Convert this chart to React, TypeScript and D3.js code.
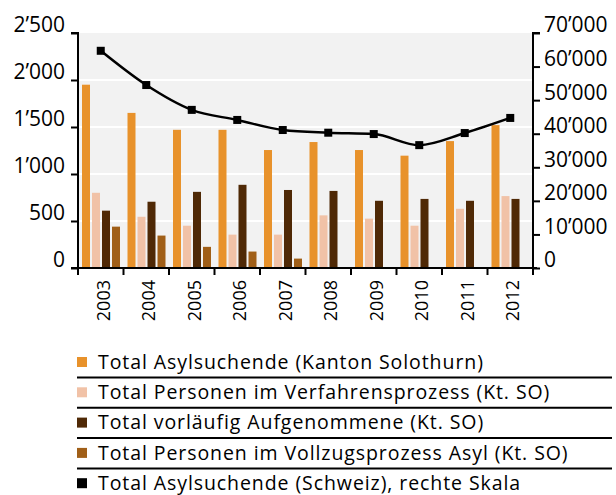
import React, { useEffect, useRef } from "react";
import * as d3 from "d3";

const years = ["2003", "2004", "2005", "2006", "2007", "2008", "2009", "2010", "2011", "2012"];
const kantonTotal = [1950, 1650, 1470, 1470, 1255, 1340, 1255, 1195, 1350, 1520];
const verfahren = [800, 545, 450, 355, 355, 560, 525, 450, 630, 765];
const vorlaeufig = [610, 705, 810, 885, 830, 820, 715, 735, 715, 735];
const vollzug = [440, 345, 225, 175, 100, 0, 0, 0, 0, 0];
const schweiz = [64700, 54500, 47100, 44100, 41100, 40300, 39900, 36600, 40200, 44700];

const leftTicks = [0, 500, 1000, 1500, 2000, 2500];
const rightTicks = [0, 10000, 20000, 30000, 40000, 50000, 60000, 70000];

const barSeries = [
  { key: "kanton", label: "Total Asylsuchende (Kanton Solothurn)", color: "#e8922b", values: kantonTotal },
  { key: "verfahren", label: "Total Personen im Verfahrensprozess (Kt. SO)", color: "#f1c2a7", values: verfahren },
  { key: "vorlaeufig", label: "Total vorläufig Aufgenommene (Kt. SO)", color: "#4f2906", values: vorlaeufig },
  { key: "vollzug", label: "Total Personen im Vollzugsprozess Asyl (Kt. SO)", color: "#a05f18", values: vollzug },
];
const lineLabel = "Total Asylsuchende (Schweiz), rechte Skala";

const W = 616;
const H = 495;
const FONT = "'Open Sans', sans-serif";

// swiss thousands separator
const fmt = (d: number) => {
  const s = String(d);
  return s.length > 3 ? s.slice(0, -3) + "\u2019" + s.slice(-3) : s;
};

const App: React.FC = () => {
  const svgRef = useRef<SVGSVGElement | null>(null);

  useEffect(() => {
    if (!svgRef.current) return;
    const svg = d3.select(svgRef.current);
    svg.selectAll("*").remove();

    const plot = { left: 78, right: 533, top: 33, bottom: 268 };

    const x = d3.scaleBand<string>().domain(years).range([plot.left, plot.right]);
    const xInner = d3
      .scaleBand<string>()
      .domain(barSeries.map((s) => s.key))
      .range([4, 42])
      .paddingInner(0.2);
    const yLeft = d3.scaleLinear().domain([0, 2500]).range([plot.bottom, plot.top]);
    const yRight = d3.scaleLinear().domain([0, 70000]).range([plot.bottom, plot.top]);

    // background
    svg
      .append("rect")
      .attr("x", plot.left)
      .attr("y", plot.top)
      .attr("width", plot.right - plot.left)
      .attr("height", plot.bottom - plot.top)
      .attr("fill", "#f2f2f2");

    // gridlines
    svg
      .append("g")
      .selectAll("line")
      .data(leftTicks.slice(1, -1))
      .enter()
      .append("line")
      .attr("x1", plot.left)
      .attr("x2", plot.right)
      .attr("y1", (d) => yLeft(d))
      .attr("y2", (d) => yLeft(d))
      .attr("stroke", "#fff")
      .attr("stroke-width", 2);

    // bars
    barSeries.forEach((s) => {
      svg
        .append("g")
        .selectAll("rect")
        .data(s.values)
        .enter()
        .append("rect")
        .attr("x", (_d, i) => x(years[i])! + xInner(s.key)!)
        .attr("y", (d) => yLeft(d))
        .attr("width", xInner.bandwidth())
        .attr("height", (d) => yLeft(0) - yLeft(d))
        .attr("fill", s.color);
    });

    // line
    const line = d3
      .line<number>()
      .x((_d, i) => x(years[i])! + x.bandwidth() / 2)
      .y((d) => yRight(d))
      .curve(d3.curveMonotoneX);
    svg
      .append("path")
      .datum(schweiz)
      .attr("d", line)
      .attr("fill", "none")
      .attr("stroke", "#000")
      .attr("stroke-width", 2.5);
    svg
      .append("g")
      .selectAll("rect")
      .data(schweiz)
      .enter()
      .append("rect")
      .attr("x", (_d, i) => x(years[i])! + x.bandwidth() / 2 - 4)
      .attr("y", (d) => yRight(d) - 4)
      .attr("width", 8)
      .attr("height", 8)
      .attr("fill", "#000");

    // left axis
    const leftAxis = svg
      .append("g")
      .attr("transform", `translate(${plot.left},0)`)
      .call(d3.axisLeft(yLeft).tickValues(leftTicks).tickSize(7).tickFormat((d) => fmt(d as number)));
    leftAxis.select(".domain").attr("stroke-width", 2).attr("d", `M-7,${plot.top}H0V${plot.bottom}`);
    leftAxis.selectAll("line").attr("stroke-width", 2);
    leftAxis
      .selectAll("text")
      .attr("font-family", FONT)
      .attr("font-size", 21)
      .attr("fill", "#000")
      .attr("x", -13)
      .attr("dy", "-0.05em")
      .attr("dominant-baseline", "auto");

    // right axis
    const rightAxis = svg
      .append("g")
      .attr("transform", `translate(${plot.right},0)`)
      .call(d3.axisRight(yRight).tickValues(rightTicks).tickSize(7).tickFormat((d) => fmt(d as number)));
    rightAxis.select(".domain").attr("stroke-width", 2).attr("d", `M7,${plot.top}H0V${plot.bottom}`);
    rightAxis.selectAll("line").attr("stroke-width", 2);
    rightAxis
      .selectAll("text")
      .attr("font-family", FONT)
      .attr("font-size", 21)
      .attr("fill", "#000")
      .attr("x", 11)
      .attr("dy", "-0.05em");

    // bottom axis
    const bounds = [...years.map((y) => x(y)!), plot.right];
    const bottom = svg.append("g");
    bottom
      .append("line")
      .attr("x1", plot.left - 7)
      .attr("x2", plot.right + 4)
      .attr("y1", plot.bottom)
      .attr("y2", plot.bottom)
      .attr("stroke", "#000")
      .attr("stroke-width", 2);
    bottom
      .selectAll("line.tick")
      .data(bounds)
      .enter()
      .append("line")
      .attr("class", "tick")
      .attr("x1", (d) => d)
      .attr("x2", (d) => d)
      .attr("y1", plot.bottom)
      .attr("y2", plot.bottom + 7)
      .attr("stroke", "#000")
      .attr("stroke-width", 2);
    bottom
      .selectAll("text")
      .data(years)
      .enter()
      .append("text")
      .attr("transform", (d) => `translate(${x(d)! + x.bandwidth() / 2 + 9},280) rotate(-90)`)
      .attr("text-anchor", "end")
      .attr("font-family", FONT)
      .attr("font-size", 18)
      .attr("fill", "#000")
      .text((d) => d);

    // legend
    const legendItems = [
      ...barSeries.map((s) => ({ label: s.label, color: s.color })),
      { label: lineLabel, color: "#000" },
    ];
    const legend = svg.append("g").attr("transform", "translate(77,362)");
    legendItems.forEach((item, i) => {
      const g = legend.append("g").attr("transform", `translate(0,${i * 30.3})`);
      g.append("rect").attr("x", 0).attr("y", -5).attr("width", 10).attr("height", 10).attr("fill", item.color);
      g.append("text")
        .attr("x", 21)
        .attr("y", 0)
        .attr("dy", "0.35em")
        .attr("font-family", FONT)
        .attr("font-size", 19.5)
        .attr("letter-spacing", 0.92)
        .attr("fill", "#000")
        .text(item.label);
      if (i < legendItems.length - 1) {
        g.append("line")
          .attr("x1", 0)
          .attr("x2", 535)
          .attr("y1", 15.5)
          .attr("y2", 15.5)
          .attr("stroke", "#000")
          .attr("stroke-width", 2);
      }
    });
  }, []);

  return (
    <svg
      ref={svgRef}
      width={W}
      height={H}
      style={{ position: "absolute", left: 0, top: 0, background: "#fff" }}
    ></svg>
  );
};

export default App;
